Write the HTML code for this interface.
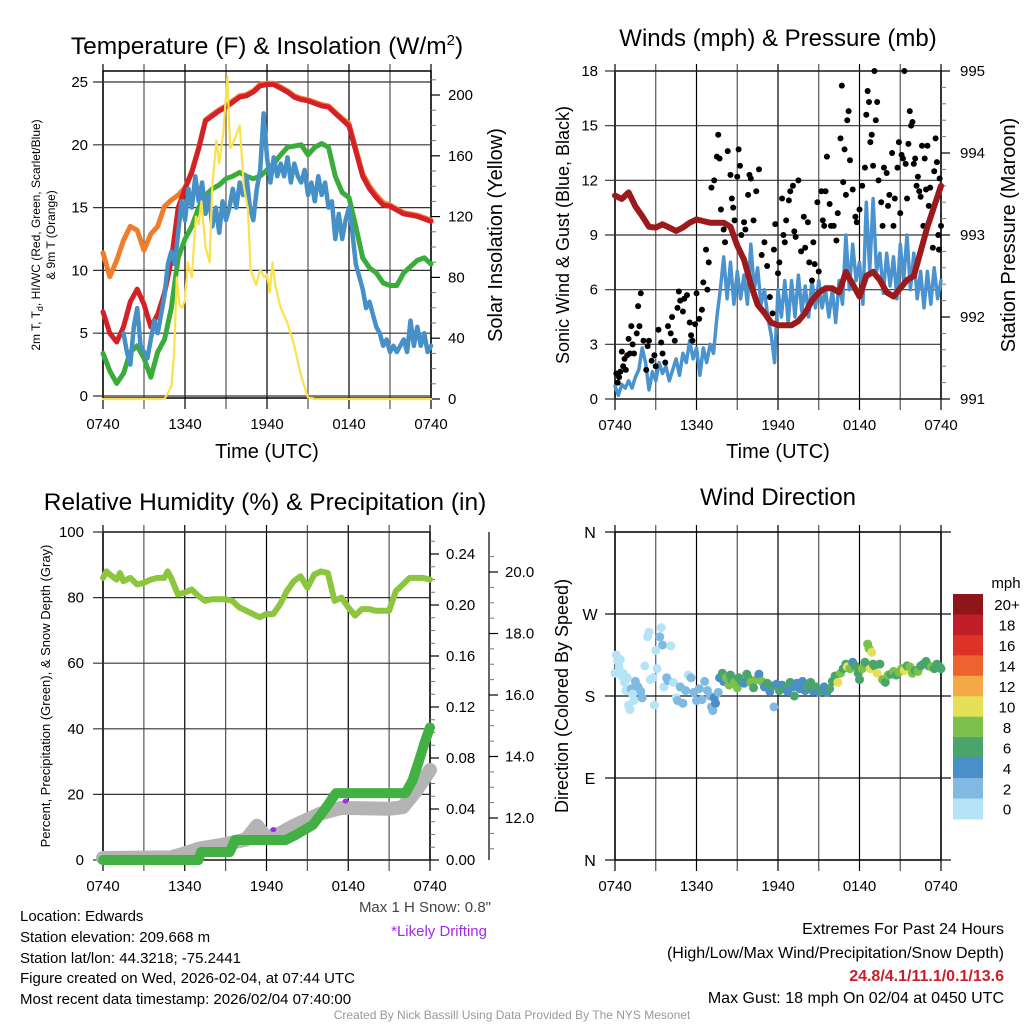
<!DOCTYPE html>
<html><head><meta charset="utf-8"><style>
html,body{margin:0;padding:0;background:#fff;}
svg{display:block;font-family:"Liberation Sans",sans-serif;}
</style></head><body>
<svg id="s" width="1024" height="1024" viewBox="0 0 1024 1024" xmlns="http://www.w3.org/2000/svg">
<rect width="1024" height="1024" fill="#fff"/>
<g id="g1"></g>
<g id="g2"></g>
<g id="g3"></g>
<g id="g4"></g>
<text x="267" y="54" font-size="24.5" text-anchor="middle">Temperature (F) &amp; Insolation (W/m<tspan dy="-9" font-size="15">2</tspan><tspan dy="9">)</tspan></text>
<text x="778" y="46" font-size="24" text-anchor="middle">Winds (mph) &amp; Pressure (mb)</text>
<text x="265" y="510" font-size="24.5" text-anchor="middle">Relative Humidity (%) &amp; Precipitation (in)</text>
<text x="778" y="505" font-size="24" text-anchor="middle">Wind Direction</text>
<g font-size="15">
<text x="20" y="921">Location: Edwards</text>
<text x="20" y="942">Station elevation: 209.668 m</text>
<text x="20" y="963">Station lat/lon: 44.3218; -75.2441</text>
<text x="20" y="983">Figure created on Wed, 2026-02-04, at 07:44 UTC</text>
<text x="20" y="1004">Most recent data timestamp: 2026/02/04 07:40:00</text>
</g>
<text x="491" y="912" font-size="15" fill="#444" text-anchor="end">Max 1 H Snow: 0.8"</text>
<text x="487" y="936" font-size="15" fill="#a428f0" text-anchor="end">*Likely Drifting</text>
<g font-size="16" text-anchor="end">
<text x="1004" y="934">Extremes For Past 24 Hours</text>
<text x="1004" y="958">(High/Low/Max Wind/Precipitation/Snow Depth)</text>
<text x="1004" y="981" fill="#c8202a" font-weight="bold">24.8/4.1/11.1/0.1/13.6</text>
<text x="1004" y="1003">Max Gust: 18 mph On 02/04 at 0450 UTC</text>
</g>
<text x="512" y="1019" font-size="12" fill="#999" text-anchor="middle">Created By Nick Bassill Using Data Provided By The NYS Mesonet</text>
</svg>
<script>
// ---------- data ----------
const timeTickLabels = ["0740","1340","1940","0140","0740"];
const tempTicks = [0,5,10,15,20,25];
const solarTicks = [0,40,80,120,160,200];
const windTicks = [0,3,6,9,12,15,18];
const presTicks = [991,992,993,994,995];
const rhTicks = [0,20,40,60,80,100];
const precipTicks = ["0.00","0.04","0.08","0.12","0.16","0.20","0.24"];
const snowTicks = ["12.0","14.0","16.0","18.0","20.0"];
const dirTicks = ["N","E","S","W","N"];
const speedBinLabels = ["0","2","4","6","8","10","12","14","16","18","20+"];
const speedBinColors = ["#b6e4f7","#80b9e2","#4a8fc7","#49a56c","#7cc24a","#e6df58","#f5a846","#ec632f","#dd3226","#c01f27","#8e1519"];

// temperature (half-hourly from 0740)
const tempRed = [6.7,5,4.3,5.5,7.5,8.5,7.3,5.5,6.5,8.2,10.8,15,16.5,17.8,19.7,21.9,22.3,22.7,23,23.4,23.8,23.9,24.2,24.7,24.8,24.8,24.5,24.2,23.8,23.6,23.5,23.3,23.1,23,22.5,22,21.5,19.5,17.5,16.5,15.8,15.2,15.1,14.8,14.5,14.4,14.3,14.1,13.9];
const temp9m = [11.4,9.5,10.8,12.4,13.5,13.2,11.6,12.9,13.5,15.1,15.6,16,16.6,17.9,19.8,22,22.4,22.8,23.1,23.5,23.9,24,24.3,24.8,24.9,24.9,24.6,24.3,23.9,23.7,23.6,23.4,23.2,23.1,22.6,22.1,21.7,19.7,17.7,16.7,16,15.4,15.2,14.9,14.6,14.5,14.4,14.2,14];
const dewGreen = [3.4,2,1,1.8,3.5,4,3,1.5,3.5,4.5,7,11,12.5,13.5,15,16,16.5,16.8,17.3,17.5,17.8,17.5,17.3,17.5,18,18.5,19.2,19.8,19.9,20,19.2,19.8,20.1,19.8,17.5,16.2,15.8,13.5,11,10.2,9.8,9,8.8,8.8,9.8,10.3,10.8,11,10.5];
// wind chill (quarter-hourly from hour 1.5)
const chillBlue = [5,3.5,2.5,5.5,7,4,3.5,3,4.5,6,5,6.5,8,10.5,11.5,10.5,13,15.5,14,16.5,15,17.5,15.5,17,14.5,16,13.5,15,13,15.5,14,15,16.5,15,17,16,17.5,15,14,16.5,18,22.5,19,17,19,17.5,18.5,17.5,19,17,18.5,17.5,17,18,16,17,15.5,17.5,16,17,15,15.5,12.5,14.5,12.5,14,15,13,10.5,9.5,8.5,7,7.5,6.5,5.5,5,4,4.5,3.5,4,3.5,4,4.5,3.5,6,4,5.5,4,5,3.5,4];
const solarHours = [0,4.5,5,5.2,5.4,5.6,5.8,6,6.2,6.5,6.8,7,7.2,7.5,7.8,8,8.3,8.5,8.8,9.1,9.3,9.6,10,10.3,10.6,10.8,11.2,11.5,11.8,12,12.2,12.4,12.6,13,13.5,14,14.5,15,15.5,24];
const solarVals = [0,0,8,30,80,62,60,65,90,80,120,115,130,100,90,140,170,155,175,212,165,170,180,140,125,85,75,85,80,82,70,90,75,60,50,35,15,1,0,0];

// winds (quarter-hourly)
const windSpeed = [0.7,0.2,0.8,0.6,1,0.6,1.2,1.6,2.8,2,0.5,1.5,1,2,1.4,1.8,1,1.6,2.2,1.3,2.5,2,3.2,2.2,2.8,1.3,2.8,2,3,2.5,4.5,6,7.8,5.5,7.5,5.2,7,5.5,6.8,5.2,8.5,6,7.2,5.2,6,4.5,3.5,2,6,4.5,6.5,4.2,6.5,4.5,6.8,4.8,6.2,4.5,6.5,5,6.5,5,6,4.5,6,4.2,6.5,5.2,9,6,8.5,6.5,7.5,5.2,10.8,7,11,7,8,5.8,8,6.2,7.8,5.5,8.5,6.5,9,6,8,5.5,7,5,7,5.2,7.2,5.5,6.5];
const gustHours = [0.1,0.2,0.3,0.4,0.5,0.6,0.7,0.8,0.9,1.0,1.1,1.2,1.3,1.4,1.6,1.7,1.8,1.9,2.1,2.3,2.4,2.5,2.7,2.9,3.0,3.2,3.4,3.5,3.7,3.9,4.1,4.2,4.4,4.6,4.7,4.8,5.0,5.1,5.3,5.5,5.6,5.7,5.9,6.0,6.2,6.4,6.5,6.7,6.8,6.9,7.1,7.3,7.5,7.6,7.7,7.8,8.0,8.1,8.3,8.5,8.6,8.7,8.8,9.0,9.1,9.2,9.3,9.5,9.6,9.8,9.9,10.0,10.2,10.4,10.6,10.8,11.0,11.2,11.4,11.6,11.7,11.8,12.0,12.1,12.3,12.4,12.5,12.6,12.8,12.9,13.1,13.2,13.3,13.5,13.7,13.9,14.0,14.2,14.3,14.5,14.6,14.7,14.9,15.0,15.2,15.3,15.4,15.5,15.6,15.8,15.9,16.1,16.3,16.4,16.6,16.7,16.8,16.9,17.0,17.1,17.2,17.3,17.5,17.7,17.8,18.0,18.2,18.4,18.5,18.6,18.7,18.8,18.9,19.0,19.1,19.2,19.3,19.4,19.6,19.7,19.8,20.0,20.1,20.2,20.4,20.5,20.6,20.8,20.9,21.0,21.1,21.2,21.3,21.4,21.5,21.6,21.7,21.8,21.9,22.0,22.1,22.2,22.3,22.4,22.5,22.6,22.7,22.8,22.9,23.0,23.1,23.2,23.4,23.5,23.6,23.7,23.8,23.85,23.9,24.0];
const gustVals = [1.4,0.9,1.2,1.5,2.6,1.8,2.2,1.6,2.4,3.3,2.5,4.0,3.0,2.5,3.6,5.1,4.0,5.8,3.2,1.6,2.9,3.2,2.1,2.4,1.8,3.8,3.1,2.5,2.0,4.0,3.6,4.5,3.2,5.0,5.9,5.4,4.8,5.5,5.7,4.2,3.5,3.2,4.1,5.8,4.4,4.9,6.4,8.2,6.0,7.5,11.6,12.0,13.3,14.5,13.2,10.4,9.3,8.6,13.6,12.3,11.0,10.5,9.8,12.2,13.7,12.8,9.0,9.7,9.3,11.2,12.3,12.1,9.8,11.4,12.6,7.9,8.6,7.3,5.6,4.7,8.2,9.6,6.9,7.5,11.0,9.0,8.6,9.8,10.9,11.4,11.7,9.2,8.9,12.0,8.1,10.0,8.3,9.7,7.5,6.5,8.6,7.4,10.8,7.0,11.4,9.8,9.5,11.4,13.3,10.7,9.5,9.5,8.7,10.2,14.3,17.2,11.9,13.7,11.2,15.3,15.8,13.1,11.5,10.0,9.7,10.4,11.7,12.7,15.6,16.9,16.3,14.1,14.5,12.8,18.0,15.3,16.3,12.0,10.8,9.5,12.7,12.4,10.6,11.2,13.5,9.5,11.0,12.7,14.1,10.2,13.4,13.2,18.0,12.9,11.0,14.0,15.8,15.0,15.2,12.9,13.2,11.7,12.2,11.4,11.1,13.9,9.5,13.2,11.5,13.9,10.6,11.6,8.3,12.5,14.3,13.0,9.0,8.2,12.1,9.5];
const presHours = [0,0.5,1,1.5,2,2.5,3,3.5,4,4.5,5,5.5,6,6.5,7,7.5,8,8.5,9,9.5,10,10.5,11,11.5,12,13,13.5,14,14.5,15,15.5,16,16.5,17,17.5,18,18.5,19,19.5,20,20.5,21,21.5,22,22.5,23,23.5,24];
const presVals = [993.48,993.44,993.52,993.35,993.23,993.1,993.09,993.13,993.09,993.05,993.09,993.15,993.19,993.17,993.15,993.15,993.15,993.1,992.87,992.7,992.4,992.15,992.05,991.93,991.9,991.9,991.95,992.05,992.2,992.3,992.35,992.35,992.3,992.55,992.4,992.25,992.5,992.55,992.45,992.3,992.25,992.35,992.45,992.5,992.8,993.1,993.35,993.6];

// humidity / precip / snow
const rhHours = [0,0.25,0.5,1,1.25,1.5,2,2.5,3,3.5,4,4.5,4.75,5,5.5,6,6.5,7,7.5,8,8.5,9,9.5,10,10.5,11,11.5,12,12.5,13,13.5,14,14.5,15,15.5,16,16.5,17,17.5,18,18.5,19,19.5,20,20.5,21,21.5,22,22.5,23,23.5,24];
const rhVals = [86,88,87,85.5,87.5,85,86,84,84.5,85.5,86,86,88,86,81,81.5,82.5,80.5,79,79.5,79.5,79.5,79,77,76,75,74,75,75,78,82,85,86.5,83,87,88,87.5,79,80,77,74.5,76.5,76.5,76,76,76,82,84,86,86,86,85.5];
const precipHours = [0,7.0,7.2,9.3,9.7,13.4,14.2,15.4,16.3,17.1,22.2,22.7,23.2,23.6,24];
const precipVals = [0,0,0.0063,0.0063,0.0157,0.0157,0.02,0.0275,0.04,0.0525,0.0525,0.062,0.078,0.092,0.104];
const snowHours = [0,5,6,7,9,10.5,11.3,12,13,14,15,16,17.5,21,22,23,24];
const snowVals = [10.7,10.72,10.85,11.0,11.15,11.3,11.75,11.35,11.5,11.75,11.95,12.15,12.33,12.3,12.35,12.9,13.56];
const driftHours = [10.4,12.5,15.8,17.8];
const driftVals = [11.2,11.62,12.0,12.55];

// wind direction
const dirHours = [0.0,0.1,0.2,0.3,0.4,0.5,0.6,0.7,0.8,0.9,1.0,1.1,1.2,1.3,1.4,1.5,1.7,1.9,2.0,2.2,2.4,2.5,2.6,2.8,2.9,3.0,3.1,3.3,3.4,3.5,3.6,3.8,3.9,4.1,4.3,4.5,4.6,4.8,5.0,5.2,5.4,5.6,5.8,6.0,6.2,6.4,6.6,6.8,7.0,7.1,7.2,7.3,7.4,7.6,7.7,7.9,8.0,8.2,8.4,8.5,8.6,8.8,9.0,9.1,9.3,9.5,9.7,9.8,10.0,10.2,10.4,10.6,10.8,11.0,11.2,11.4,11.6,11.7,11.9,12.1,12.3,12.5,12.7,12.9,13.1,13.2,13.4,13.6,13.8,14.0,14.2,14.4,14.6,14.8,15.0,15.2,15.4,15.6,15.8,16.0,16.2,16.4,16.6,16.8,17.0,17.1,17.3,17.5,17.7,17.9,18.0,18.2,18.4,18.6,18.7,18.8,18.9,19.0,19.1,19.3,19.5,19.7,19.9,20.1,20.3,20.5,20.7,20.9,21.1,21.3,21.5,21.7,21.9,22.1,22.3,22.5,22.7,22.9,23.1,23.3,23.5,23.7,23.9,24.0];
const dirVals = [205,225,218,212,220,202,205,195,186,200,170,165,188,182,175,196,190,185,178,213,245,250,198,200,170,230,210,245,255,236,190,200,197,235,195,178,175,190,172,186,203,200,184,175,188,176,196,186,180,168,164,178,172,184,200,205,196,200,192,203,198,195,189,200,196,194,204,200,195,189,198,204,196,190,194,185,191,168,193,186,192,188,185,195,190,180,194,188,196,186,190,195,185,190,184,186,190,184,188,196,202,195,205,210,215,212,210,217,213,205,198,210,217,237,232,210,228,215,213,205,215,198,195,203,204,207,203,206,210,208,213,212,205,208,207,213,215,218,213,212,210,215,212,210];
const dirSpeeds = [0.5,0.5,0.5,1,0.5,0.5,1,1,0.5,0.5,1,0.5,3,1,0.5,2.5,2,2.5,3,1,1,1,1,1,1,1,0.5,3,1,3,1,3,2,1,1,1,2.5,2,2.5,3,1,3.5,2,2,2,2,2,2.5,3,3,2,5,5,3,4,6,4,8,8,6,6,8,8,6,6,4,6,6,8,6,8,4,8,4,6,4,6,3,4,6,4,6,4,6,4,6,4,4,4,4,6,6,4,6,4,6,4,4,6,6,6,10,8,6,6,10,8,4,6,6,6,8,6,8,8,10,10,6,6,10,6,8,6,8,6,8,6,8,8,10,6,8,8,6,8,6,6,6,6,8,6,6,6,6];

// ---------- helpers ----------
const NS = "http://www.w3.org/2000/svg";
function mk(parent, tag, attrs){ const e=document.createElementNS(NS,tag); for(const k in attrs) e.setAttribute(k,attrs[k]); parent.appendChild(e); return e; }
function lin(d0,d1,r0,r1){ return v => r0 + (v-d0)/(d1-d0)*(r1-r0); }
function pathD(hs, vs, xs, ys){ return hs.map((h,i)=>(i?"L":"M")+xs(h).toFixed(1)+","+ys(vs[i]).toFixed(1)).join(""); }

function frame(g, x0, x1, y0, y1){
  const xs = lin(0,24,x0,x1);
  for(let h=0; h<=24; h+=3){
    const ln = mk(g,"line",{x1:xs(h),x2:xs(h),y1:y0-7,y2:y1+11,stroke:(h%6===0)?"#000":"#555","stroke-width":1.2});
    
    
  }
  const bx = mk(g,"rect",{x:x0,y:y0,width:x1-x0,height:y1-y0,fill:"none",stroke:"#000","stroke-width":1.5});
  
  
  timeTickLabels.forEach((t,i)=>{
    const tx = mk(g,"text",{x:xs(i*6),y:y1+31,"font-size":15,"text-anchor":"middle"});
    tx.textContent=t;
    
    
  });
  return xs;
}
function hgrid(g,x0,x1,ys,ticks,labelX,anchor,fmt){
  ticks.forEach(v=>{
    const y=ys(v);
    const ln=mk(g,"line",{x1:x0-10,x2:x1,y1:y,y2:y,stroke:"#333","stroke-width":1.2});
    
    
    const t=mk(g,"text",{x:labelX,y:y+5,"font-size":15,"text-anchor":anchor});
    t.textContent=fmt?fmt(v):v;
    
    
  });
}
function rightTicks(g,x,ys,ticks,minor,labelX,fmt){
  ticks.forEach(v=>{
    const y=ys(v);
    const ln=mk(g,"line",{x1:x,x2:x+9,y1:y,y2:y,stroke:"#000","stroke-width":1.2});
    
    
    const t=mk(g,"text",{x:labelX,y:y+5,"font-size":15});
    t.textContent=fmt?fmt(v):v;
    
    
  });
  minor.forEach(v=>{
    const y=ys(v);
    const ln=mk(g,"line",{x1:x,x2:x+5,y1:y,y2:y,stroke:"#777","stroke-width":1});
    
    
  });
}
function vlabel(g,x,y,txt,size,name){
  const t=mk(g,"text",{x:0,y:0,"font-size":size,"text-anchor":"middle",transform:`translate(${x},${y}) rotate(-90)`});
  t.textContent=txt;
  
  
  return t;
}
function timeTitle(g,x,y){
  const t=mk(g,"text",{x:x,y:y,"font-size":20,"text-anchor":"middle"});
  t.textContent="Time (UTC)";
  
  
}
function line(g,d,color,w,name){
  const p=mk(g,"path",{d:d,fill:"none",stroke:color,"stroke-width":w,"stroke-linejoin":"round","stroke-linecap":"round"});
  
  
  return p;
}
const halfHours = tempRed.map((_,i)=>i*0.5);
const quarterHours = windSpeed.map((_,i)=>i*0.25);
const chillHours = chillBlue.map((_,i)=>1.5+i*0.25);

// ---------- panel 1 ----------
(function(){
  const g=document.getElementById("g1");
  const x0=103,x1=431,y0=71,y1=398;
  const xs=frame(g,x0,x1,y0,y1);
  const ys=lin(0,25,396,82);
  const ysR=lin(0,200,399,95);
  hgrid(g,x0,x1,ys,tempTicks,88,"end");
  const minor=[];for(let v=10;v<=210;v+=10) if(v%40) minor.push(v);
  rightTicks(g,x1,ysR,solarTicks,minor,448);
  vlabel(g,40,235,"2m T, T",12,"left-axis-title-line1").innerHTML='2m T, T<tspan dy="3" font-size="9">d</tspan><tspan dy="-3">, HI/WC (Red, Green, Scarlet/Blue)</tspan>';
  vlabel(g,55,235,"& 9m T (Orange)",12,"left-axis-title-line2");
  vlabel(g,502,235,"Solar Insolation (Yellow)",20,"right-axis-title");
  timeTitle(g,267,458);
  line(g,pathD(halfHours,temp9m,xs,ys),"#f07c2c",5,"temp-9m-line");
  line(g,pathD(halfHours,tempRed,xs,ys),"#d42027",5,"temp-2m-line");
  line(g,pathD(halfHours,dewGreen,xs,ys),"#3aac3a",5,"dewpoint-line");
  line(g,pathD(chillHours,chillBlue,xs,ys),"#4690c8",4.5,"windchill-line");
  line(g,pathD(solarHours,solarVals,xs,ysR),"#fbe14a",2.2,"solar-line");
})();

// ---------- panel 2 ----------
(function(){
  const g=document.getElementById("g2");
  const x0=615,x1=941,y0=71,y1=399;
  const xs=frame(g,x0,x1,y0,y1);
  const ys=lin(0,18,399,71);
  const ysR=lin(991,995,399,71);
  hgrid(g,x0,x1,ys,windTicks,598,"end");
  const minor=[];for(let v=991.2;v<995;v+=0.2) if(Math.abs(v-Math.round(v))>0.05) minor.push(v);
  rightTicks(g,x1,ysR,presTicks,minor,960);
  vlabel(g,569,235,"Sonic Wind & Gust (Blue, Black)",18,"left-axis-title");
  vlabel(g,1015,235,"Station Pressure (Maroon)",20,"right-axis-title");
  timeTitle(g,778,458);
  line(g,pathD(quarterHours,windSpeed,xs,ys),"#4a93cf",3.5,"wind-speed-line");
  gustHours.forEach((h,i)=>{
    const c=mk(g,"circle",{cx:xs(h),cy:ys(gustVals[i]),r:3,fill:"#000"});
    
    
  });
  line(g,pathD(presHours,presVals,xs,ysR),"#9c1a1c",6,"pressure-line");
})();

// ---------- panel 3 ----------
(function(){
  const g=document.getElementById("g3");
  const x0=103,x1=430,y0=532,y1=860;
  const xs=frame(g,x0,x1,y0,y1);
  const ys=lin(0,100,860,532);
  const ysP=lin(0,0.24,860,554);
  const ysS=lin(12,20,818,572);
  hgrid(g,x0,x1,ys,rhTicks,84,"end");
  const pminor=[];for(let v=0.01;v<0.26;v+=0.01) if(Math.round(v*100)%4) pminor.push(v);
  rightTicks(g,x1,ysP,precipTicks.map(Number),pminor,446,v=>v.toFixed(2));
  const ax=mk(g,"line",{x1:489,x2:489,y1:532,y2:860,stroke:"#000","stroke-width":1.2});
  
  
  const sminor=[];for(let v=10.5;v<20.8;v+=0.5) if(v%2) sminor.push(v);
  rightTicks(g,489,ysS,snowTicks.map(Number),sminor.filter(v=>ysS(v)>532&&ysS(v)<860),505,v=>v.toFixed(1));
  vlabel(g,50,696,"Percent, Precipitation (Green), & Snow Depth (Gray)",13,"left-axis-title");
  line(g,pathD(rhHours,rhVals,xs,ys),"#8cc63f",6,"humidity-line");
  line(g,pathD(snowHours,snowVals,xs,ysS),"#b4b4b4",14,"snow-depth-line");
  driftHours.forEach((h,i)=>{
    const c=mk(g,"ellipse",{cx:xs(h),cy:ysS(driftVals[i]),rx:3,ry:2.5,fill:"#a428f0"});
    
    
  });
  line(g,pathD(precipHours,precipVals,xs,ysP),"#42b043",10,"precip-line");
})();

// ---------- panel 4 ----------
(function(){
  const g=document.getElementById("g4");
  const x0=615,x1=941,y0=532,y1=860;
  const xs=frame(g,x0,x1,y0,y1);
  const ys=lin(0,360,860,532);
  dirTicks.forEach((t,i)=>{
    const y=ys(i*90);
    const ln=mk(g,"line",{x1:x0-10,x2:x1+10,y1:y,y2:y,stroke:"#111","stroke-width":1.2});
    
    
    const tx=mk(g,"text",{x:590,y:y+6,"font-size":16,"text-anchor":"middle"});
    tx.textContent=t;
    
    
  });
  vlabel(g,568,696,"Direction (Colored By Speed)",18,"left-axis-title");
  dirHours.forEach((h,i)=>{
    const bin=Math.min(10,Math.floor(dirSpeeds[i]/2));
    const c=mk(g,"circle",{cx:xs(h),cy:ys(dirVals[i]),r:4.5,fill:speedBinColors[bin]});
    
    
  });
  const cbTop=594, bh=20.45;
  const ut=mk(g,"text",{x:1006,y:588,"font-size":15,"text-anchor":"middle"});
  ut.textContent="mph";
  
  
  speedBinLabels.forEach((lab,i)=>{
    const k=10-i;
    const y=cbTop+i*bh;
    const r=mk(g,"rect",{x:953,y:y,width:30,height:bh+0.5,fill:speedBinColors[k]});
    
    
    const t=mk(g,"text",{x:1007,y:y+bh/2+6,"font-size":15,"text-anchor":"middle"});
    t.textContent=speedBinLabels[k];
    
    
  });
})();
</script>
</body></html>
